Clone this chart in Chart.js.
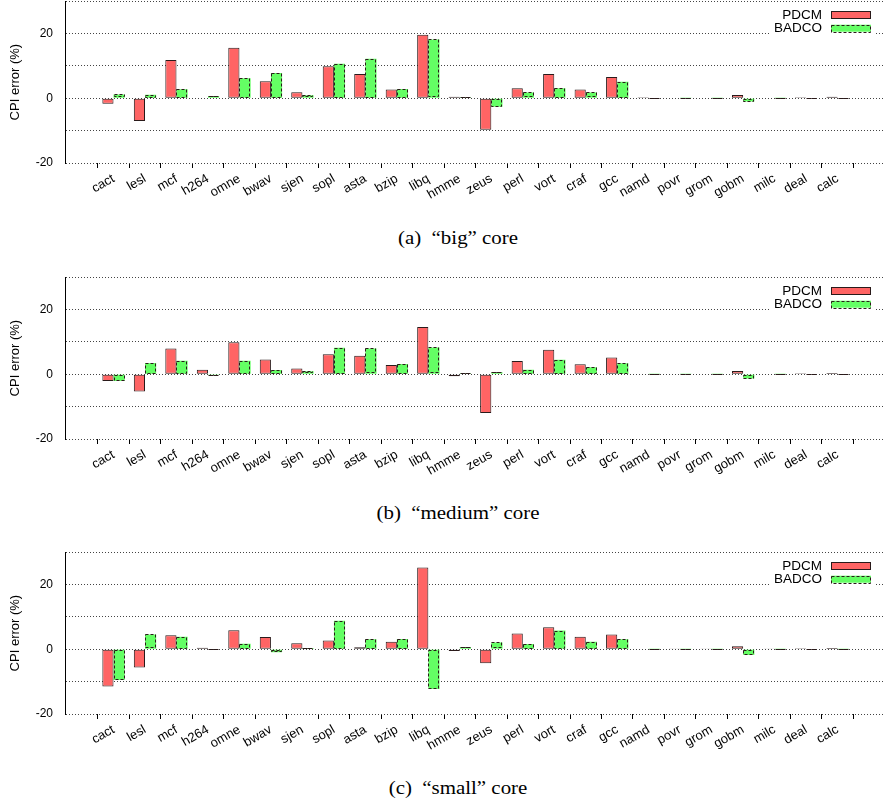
<!DOCTYPE html>
<html>
<head>
<meta charset="utf-8">
<script src="https://cdn.jsdelivr.net/npm/chart.js@4.4.1/dist/chart.umd.min.js"></script>
<style>
  html, body { margin: 0; padding: 0; background: #fff; }
  #fig { position: relative; width: 883px; height: 804px; overflow: hidden; }
  .panel { position: absolute; left: 0; width: 883px; }
  .cap {
    position: absolute; left: 458px; white-space: pre; color: #000;
    font: 19px "Liberation Serif", "Times New Roman", serif;
    transform: translate(-50%, -50%) scaleX(1.1);
  }
</style>
</head>
<body>
<div id="fig">
  <div class="panel"><canvas id="big" width="883" height="212"></canvas></div>
  <div class="cap" style="top:238px">(a)  “big” core</div>
  <div class="panel"><canvas id="medium" width="883" height="212"></canvas></div>
  <div class="cap" style="top:513px">(b)  “medium” core</div>
  <div class="panel"><canvas id="small" width="883" height="212"></canvas></div>
  <div class="cap" style="top:788px">(c)  “small” core</div>
</div>
<script>
const categories = ['cact', 'lesl', 'mcf', 'h264', 'omne', 'bwav', 'sjen', 'sopl', 'asta', 'bzip', 'libq', 'hmme',
  'zeus', 'perl', 'vort', 'craf', 'gcc', 'namd', 'povr', 'grom', 'gobm', 'milc', 'deal', 'calc'];

const bigPdcm = [-1.7, -7.0, 11.8, 0.2, 15.6, 5.3, 1.9, 9.9, 7.5, 2.7, 19.6, 0.5, -9.7, 3.1, 7.5, 2.7, 6.6, 0.3, 0.2, 0.2, 1.0, 0.2, 0.3, 0.5];
const bigBadco = [1.2, 1.1, 2.8, 0.6, 6.2, 7.8, 0.9, 10.7, 12.2, 2.9, 18.2, 0.3, -2.6, 1.8, 3.1, 1.8, 5.1, 0.2, 0.1, 0.1, -1.0, 0.1, 0.2, 0.2];
const mediumPdcm = [-2.1, -5.3, 8.0, 1.4, 9.9, 4.6, 1.8, 6.2, 5.7, 2.9, 14.6, -0.6, -12.0, 4.1, 7.6, 3.1, 5.2, 0.2, 0.2, 0.2, 1.0, 0.2, 0.3, 0.4];
const mediumBadco = [-2.1, 3.5, 4.2, -0.1, 4.2, 1.3, 0.9, 8.2, 8.0, 3.2, 8.3, 0.3, 0.6, 1.4, 4.5, 2.2, 3.4, 0.1, 0.1, 0.1, -1.3, 0.1, 0.2, 0.2];
const smallPdcm = [-11.5, -5.6, 4.3, 0.5, 5.9, 3.8, 1.9, 2.7, 0.6, 2.3, 25.3, -0.5, -4.3, 4.9, 6.8, 3.9, 4.6, 0.2, 0.1, 0.1, 0.9, 0.1, 0.3, 0.4];
const smallBadco = [-9.5, 4.6, 3.9, 0.2, 1.7, -0.9, 0.4, 8.8, 3.1, 3.2, -12.3, 0.6, 2.1, 1.6, 5.8, 2.3, 3.1, 0.1, 0.1, 0.1, -1.8, 0.1, 0.2, 0.1];

const yTicks = [-20, -10, 0, 10, 20, 30];

const RED = '#ff6464';
const GREEN = '#64ff64';
const EDGE = '#2a1a1a';
const SANS = '"Liberation Sans", Arial, Helvetica, sans-serif';
const PLOT_H = 162; // px between y=-20 and y=30 in the source figure

// gnuplot-ish extras: dashed outline on BADCO bars and an opaque key box top-right
const gnuplotLook = {
  id: 'gnuplotLook',
  afterDatasetsDraw(chart) {
    const ctx = chart.ctx;
    chart.data.datasets.forEach((ds, di) => {
      if (!ds.dashed) return;
      chart.getDatasetMeta(di).data.forEach((bar) => {
        const { x, y, base, width } = bar.getProps(['x', 'y', 'base', 'width'], true);
        const top = Math.min(y, base);
        const h = Math.abs(base - y);
        ctx.save();
        ctx.strokeStyle = EDGE;
        ctx.lineWidth = 1;
        ctx.setLineDash([3, 2]);
        ctx.strokeRect(Math.round(x - width / 2) + 0.5, Math.round(top) + 0.5, Math.round(width) - 1, Math.max(Math.round(h) - 1, 0));
        ctx.restore();
      });
    });
  },
  afterDraw(chart) {
    const ctx = chart.ctx;
    const area = chart.chartArea;
    const boxW = 40, boxH = 7, gap = 9;
    const boxRight = area.right - 12;
    const boxLeft = boxRight - boxW;
    ctx.save();
    ctx.font = '13.5px ' + SANS;
    const maxW = Math.max(...chart.data.datasets.map((d) => ctx.measureText(d.label).width));
    ctx.fillStyle = '#fff';
    ctx.fillRect(boxLeft - gap - maxW - 3, area.top + 5, maxW + gap + boxW + 6, 30);
    chart.data.datasets.forEach((ds, i) => {
      const cy = area.top + 13.5 + i * 13.5;
      ctx.fillStyle = ds.backgroundColor;
      ctx.fillRect(boxLeft, cy - boxH / 2, boxW, boxH);
      ctx.strokeStyle = EDGE;
      ctx.lineWidth = 1;
      ctx.setLineDash(ds.dashed ? [3, 2] : []);
      ctx.strokeRect(boxLeft + 0.5, Math.round(cy - boxH / 2) + 0.5, boxW - 1, boxH);
      ctx.setLineDash([]);
      ctx.fillStyle = '#000';
      ctx.textAlign = 'right';
      ctx.textBaseline = 'middle';
      ctx.fillText(ds.label, boxLeft - gap, cy + 0.5);
    });
    ctx.restore();
  },
};

function panel(canvasId, pdcm, badco, plotTop) {
  const chart = new Chart(document.getElementById(canvasId), {
    type: 'bar',
    data: {
      datasets: [
        {
          label: 'PDCM',
          data: pdcm.map((v, i) => ({ x: i + 1, y: v })),
          backgroundColor: RED,
          borderColor: EDGE,
          borderWidth: 1,
          borderSkipped: false,
        },
        {
          label: 'BADCO',
          data: badco.map((v, i) => ({ x: i + 1, y: v })),
          backgroundColor: GREEN,
          borderWidth: 0,
          dashed: true,
        },
      ],
    },
    options: {
      responsive: false,
      maintainAspectRatio: false,
      animation: false,
      layout: { padding: { top: 1, left: 5, right: 0, bottom: 0 } },
      datasets: { bar: { categoryPercentage: 0.71, barPercentage: 1 } },
      plugins: { legend: { display: false }, tooltip: { enabled: false } },
      scales: {
        x: {
          type: 'linear',
          min: 0,
          max: 24.9,
          afterBuildTicks: (s) => { s.ticks = categories.map((_, i) => ({ value: i + 1 })); },
          afterFit: (s) => { s.height = 40; },
          grid: { drawOnChartArea: false, tickLength: 5, color: '#000' },
          border: { display: false },
          ticks: {
            autoSkip: false,
            minRotation: 30,
            maxRotation: 30,
            labelOffset: 0,
            padding: 3,
            color: '#000',
            font: { family: SANS, size: 13 },
            callback: (v) => categories[v - 1] ?? '',
          },
        },
        y: {
          min: yTicks[0],
          max: yTicks[yTicks.length - 1],
          afterBuildTicks: (s) => { s.ticks = yTicks.map((v) => ({ value: v })); },
          afterFit: (s) => { s.width = 60; },
          grid: { color: '#444', drawTicks: false },
          border: { display: true, color: '#000', width: 1, dash: [1, 2] },
          ticks: {
            padding: 12,
            color: '#000',
            font: { family: SANS, size: 12 },
            callback: (v) => (v % 20 === 0 ? String(v) : ''),
          },
          title: {
            display: true,
            text: 'CPI error (%)',
            color: '#000',
            padding: { top: 3, bottom: 0 },
            font: { family: SANS, size: 13 },
          },
        },
      },
    },
    plugins: [gnuplotLook],
  });
  // keep the plot box the same height as the source, then place it
  const h = chart.chartArea.bottom - chart.chartArea.top;
  if (Math.abs(h - PLOT_H) > 0.5) chart.resize(883, Math.round(chart.height + (PLOT_H - h)));
  chart.canvas.parentNode.style.top = (plotTop - chart.chartArea.top) + 'px';
  return chart;
}

panel('big', bigPdcm, bigBadco, 1);
panel('medium', mediumPdcm, mediumBadco, 277);
panel('small', smallPdcm, smallBadco, 552);
</script>
</body>
</html>
